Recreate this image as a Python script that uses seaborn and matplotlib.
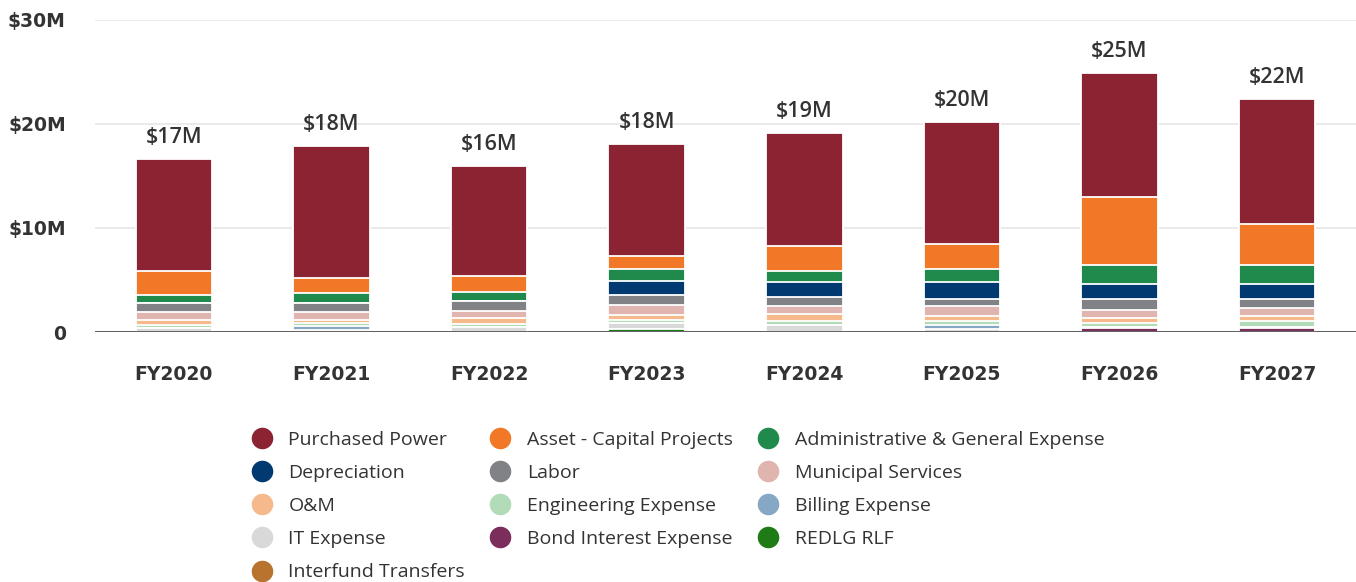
import numpy as np
import pandas as pd
import matplotlib
matplotlib.use("Agg")
import matplotlib.pyplot as plt
import seaborn as sns
from matplotlib.lines import Line2D

years = ["FY2020", "FY2021", "FY2022", "FY2023", "FY2024", "FY2025", "FY2026", "FY2027"]

# values in $M
purchased_power = [10.80, 12.70, 10.60, 10.77, 10.87, 11.73, 11.97, 12.02]
asset_capital = [2.30, 1.44, 1.50, 1.25, 2.40, 2.40, 6.52, 3.97]
admin_general = [0.74, 0.96, 0.90, 1.06, 1.06, 1.25, 1.80, 1.80]
depreciation = [0.00, 0.00, 0.00, 1.44, 1.44, 1.63, 1.44, 1.44]
labor = [0.87, 0.87, 0.90, 0.93, 0.87, 0.72, 1.06, 0.90]
municipal = [0.74, 0.77, 0.74, 0.90, 0.77, 0.91, 0.77, 0.74]
o_and_m = [0.50, 0.29, 0.50, 0.50, 0.67, 0.51, 0.50, 0.51]
engineering = [0.29, 0.27, 0.35, 0.34, 0.38, 0.36, 0.41, 0.55]
billing = [0.00, 0.43, 0.00, 0.00, 0.00, 0.37, 0.00, 0.00]
it_expense = [0.38, 0.16, 0.45, 0.55, 0.65, 0.31, 0.10, 0.14]
bond_interest = [0.00, 0.00, 0.00, 0.00, 0.00, 0.00, 0.34, 0.34]
redlg_rlf = [0.00, 0.00, 0.00, 0.29, 0.00, 0.00, 0.00, 0.00]
interfund = [0.00, 0.00, 0.00, 0.00, 0.00, 0.00, 0.00, 0.00]

series_names = ["Purchased Power", "Asset - Capital Projects", "Administrative & General Expense",
                "Depreciation", "Labor", "Municipal Services", "O&M", "Engineering Expense",
                "Billing Expense", "IT Expense", "Bond Interest Expense", "REDLG RLF",
                "Interfund Transfers"]
series_values = [purchased_power, asset_capital, admin_general, depreciation, labor, municipal,
                 o_and_m, engineering, billing, it_expense, bond_interest, redlg_rlf, interfund]
series_colors = ["#8B2332", "#F07826", "#1F8A4C", "#003A70", "#808285", "#E0B4AF",
                 "#F5B98C", "#B2DBB8", "#86A8C4", "#D9D9D9", "#7B2D5C", "#1E7B16", "#B8732E"]

sns.set_theme(style="white")
plt.rcParams["font.family"] = ["DejaVu Sans"]

fig = plt.figure(figsize=(13.56, 5.82), dpi=100)
ax = fig.add_axes([95 / 1356, 1 - 332 / 582, 1 - 95 / 1356, 312 / 582])

# stacked: first series on top; cumulative from bottom
vals = np.array(series_values)
cum_from_bottom = np.cumsum(vals[::-1], axis=0)[::-1]
totals = cum_from_bottom[0]

containers = []
for i, (name, color) in enumerate(zip(series_names, series_colors)):
    df = pd.DataFrame({"year": years, "value": cum_from_bottom[i]})
    sns.barplot(data=df, x="year", y="value", color=color, saturation=1, width=0.485,
                edgecolor="white", linewidth=1.3, ax=ax, zorder=2 + i * 0.01)
    containers.append(ax.containers[-1])

labels = [f"${round(t):.0f}M" for t in totals]
ax.bar_label(containers[0], labels=labels, padding=8, fontsize=15.5, color="#333333",
             fontweight="semibold", family=["Open Sans", "DejaVu Sans"])

ax.set_ylim(0, 30)
ax.set_xlim(-0.5, 7.5)
ax.set_yticks([0, 10, 20, 30])
ax.set_yticklabels(["0", "$10M", "$20M", "$30M"])
ax.set_xlabel("")
ax.set_ylabel("")
for s in ax.spines.values():
    s.set_visible(False)
ax.yaxis.grid(True, color="#e6e6e6", linewidth=1.2, zorder=0)
ax.set_axisbelow(True)
ax.axhline(0, color="#333333", linewidth=1.8, zorder=10)
ax.tick_params(axis="x", length=0, pad=24, labelsize=13.5, colors="#333333")
ax.tick_params(axis="y", length=0, pad=21, labelsize=13.5, colors="#333333")
for t in ax.get_xticklabels() + ax.get_yticklabels():
    t.set_fontweight("bold")

# legend, column-major order matches row-major layout of reference
handles = [Line2D([0], [0], marker="o", linestyle="", markersize=14.5,
                  markerfacecolor=c, markeredgecolor=c) for c in series_colors]
order = [0, 3, 6, 9, 12, 1, 4, 7, 10, 2, 5, 8, 11]
leg = fig.legend([handles[i] for i in order], [series_names[i] for i in order],
                 loc="upper center", bbox_to_anchor=(0.5, 1 - 421 / 582), ncol=3,
                 frameon=False, handlelength=1.0, handletextpad=0.88, columnspacing=1.3,
                 labelspacing=0.78, borderpad=0,
                 prop={"family": ["Open Sans", "DejaVu Sans"], "size": 14})
for t in leg.get_texts():
    t.set_color("#333333")

fig.savefig("out.png", dpi=100)
